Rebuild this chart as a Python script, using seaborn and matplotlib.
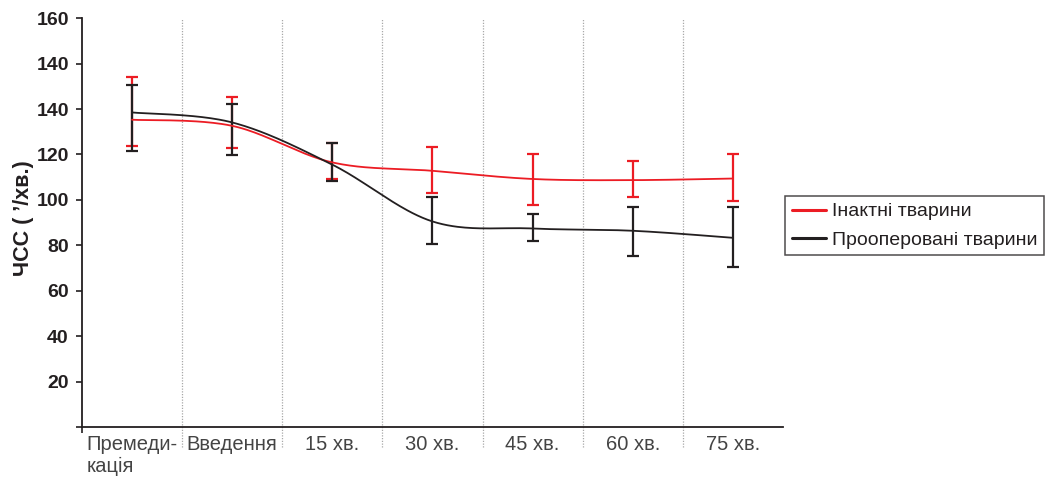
import numpy as np
import pandas as pd
import matplotlib
matplotlib.use("Agg")
import matplotlib.pyplot as plt
import seaborn as sns

# Дані
categories = ["Премеди-\nкація", "Введення", "15 хв.", "30 хв.", "45 хв.", "60 хв.", "75 хв."]

red_mean = [135.3, 132.6, 116.5, 112.8, 109.2, 108.7, 109.4]
red_hi = [153.9, 145.5, 125.1, 123.1, 120.3, 117.3, 120.3]
red_lo = [123.8, 122.9, 109.4, 103.1, 97.8, 101.1, 99.7]

blk_mean = [138.5, 134.1, 115.5, 90.5, 87.4, 86.4, 83.3]
blk_hi = [150.4, 142.0, 125.1, 101.1, 93.9, 96.7, 97.0]
blk_lo = [121.7, 119.7, 108.5, 80.7, 81.9, 75.5, 70.4]

ytick_vals = [0, 20, 40, 60, 80, 100, 120, 140, 160, 180]
ytick_labels = ["", "20", "40", "60", "80", "100", "120", "140", "140", "160"]

series_names = ["Інактні тварини", "Прооперовані тварини"]

RED = "#ec1c24"
BLACK = "#231f20"


def smooth(xs, ys, n=40):
    """Згладжена лінія (Catmull-Rom), що проходить через точки."""
    xs = np.asarray(xs, float)
    ys = np.asarray(ys, float)
    px = np.concatenate([[xs[0]], xs, [xs[-1]]])
    py = np.concatenate([[ys[0]], ys, [ys[-1]]])
    out_x, out_y = [], []
    for i in range(1, len(px) - 2):
        t = np.linspace(0, 1, n, endpoint=False)
        for p, out in ((px, out_x), (py, out_y)):
            p0, p1, p2, p3 = p[i - 1], p[i], p[i + 1], p[i + 2]
            out.extend(0.5 * (2 * p1 + (-p0 + p2) * t
                              + (2 * p0 - 5 * p1 + 4 * p2 - p3) * t ** 2
                              + (-p0 + 3 * p1 - 3 * p2 + p3) * t ** 3))
    out_x.append(xs[-1])
    out_y.append(ys[-1])
    return np.array(out_x), np.array(out_y)


sns.set_style("white")
plt.rcParams["font.family"] = ["Liberation Sans", "DejaVu Sans"]

fig = plt.figure(figsize=(10.51, 4.79), dpi=100)
ax = fig.add_axes([0.078, 0.1086, 0.667, 0.8534])

x = np.arange(len(categories))

# вертикальні пунктирні лінії між категоріями
for b in x[:-1] + 0.5:
    ax.axvline(b, ymin=-0.048, ymax=1, color="#a8a8a8", lw=0.9,
               ls=(0, (1, 1.2)), clip_on=False, zorder=0)

# похибки
ax.errorbar(x, red_mean, yerr=[np.subtract(red_mean, red_lo), np.subtract(red_hi, red_mean)],
            fmt="none", ecolor=RED, elinewidth=1.6, capsize=4, capthick=1.6, zorder=2)
ax.errorbar(x, blk_mean, yerr=[np.subtract(blk_mean, blk_lo), np.subtract(blk_hi, blk_mean)],
            fmt="none", ecolor=BLACK, elinewidth=1.6, capsize=4, capthick=1.6, zorder=3)

# згладжені лінії
rx, ry = smooth(x, red_mean)
bx, by = smooth(x, blk_mean)
df = pd.concat([
    pd.DataFrame({"x": rx, "y": ry, "s": series_names[0]}),
    pd.DataFrame({"x": bx, "y": by, "s": series_names[1]}),
])
sns.lineplot(data=df, x="x", y="y", hue="s", palette=[RED, BLACK], sort=False,
             estimator=None, lw=1.3, ax=ax, zorder=4)

ax.set_xlim(-0.5, len(categories) - 0.5)
ax.set_ylim(0, 180)
ax.set_yticks(ytick_vals)
ax.set_yticklabels(ytick_labels, fontsize=14, fontweight="bold", color="#231f20")
ax.set_xticks(x)
ax.set_xticklabels(categories, fontsize=14.5, color="#444444", linespacing=1.2,
                   multialignment="left")
ax.tick_params(axis="x", length=0, pad=6)
ax.tick_params(axis="y", direction="out", length=4.5, width=1.2, color=BLACK, pad=5, left=True)
ax.set_xticks([-0.5], minor=True)
ax.tick_params(axis="x", which="minor", direction="out", length=4.5, width=1.2,
               color=BLACK, bottom=True)

ax.set_xlabel("")
ax.set_ylabel("ЧСС ( ’/хв.)", fontsize=15.5, fontweight="bold", color="#231f20")
ax.yaxis.set_label_coords(-0.069, 0.51)

sns.despine(ax=ax)
for sp in ("left", "bottom"):
    ax.spines[sp].set_color(BLACK)
    ax.spines[sp].set_linewidth(1.3)

handles, labels = ax.get_legend_handles_labels()
leg = ax.legend(handles, labels, loc="upper left", bbox_to_anchor=(0.747, 0.591),
                bbox_transform=fig.transFigure, frameon=True, fancybox=False,
                edgecolor=BLACK, fontsize=14, handlelength=1.75, handletextpad=0.3,
                borderpad=0.35, labelspacing=0.55, borderaxespad=0)
leg.get_frame().set_linewidth(1.1)
for line in leg.get_lines():
    line.set_linewidth(2.2)
for t in leg.get_texts():
    t.set_color("#231f20")

fig.savefig("out.png", dpi=100)
